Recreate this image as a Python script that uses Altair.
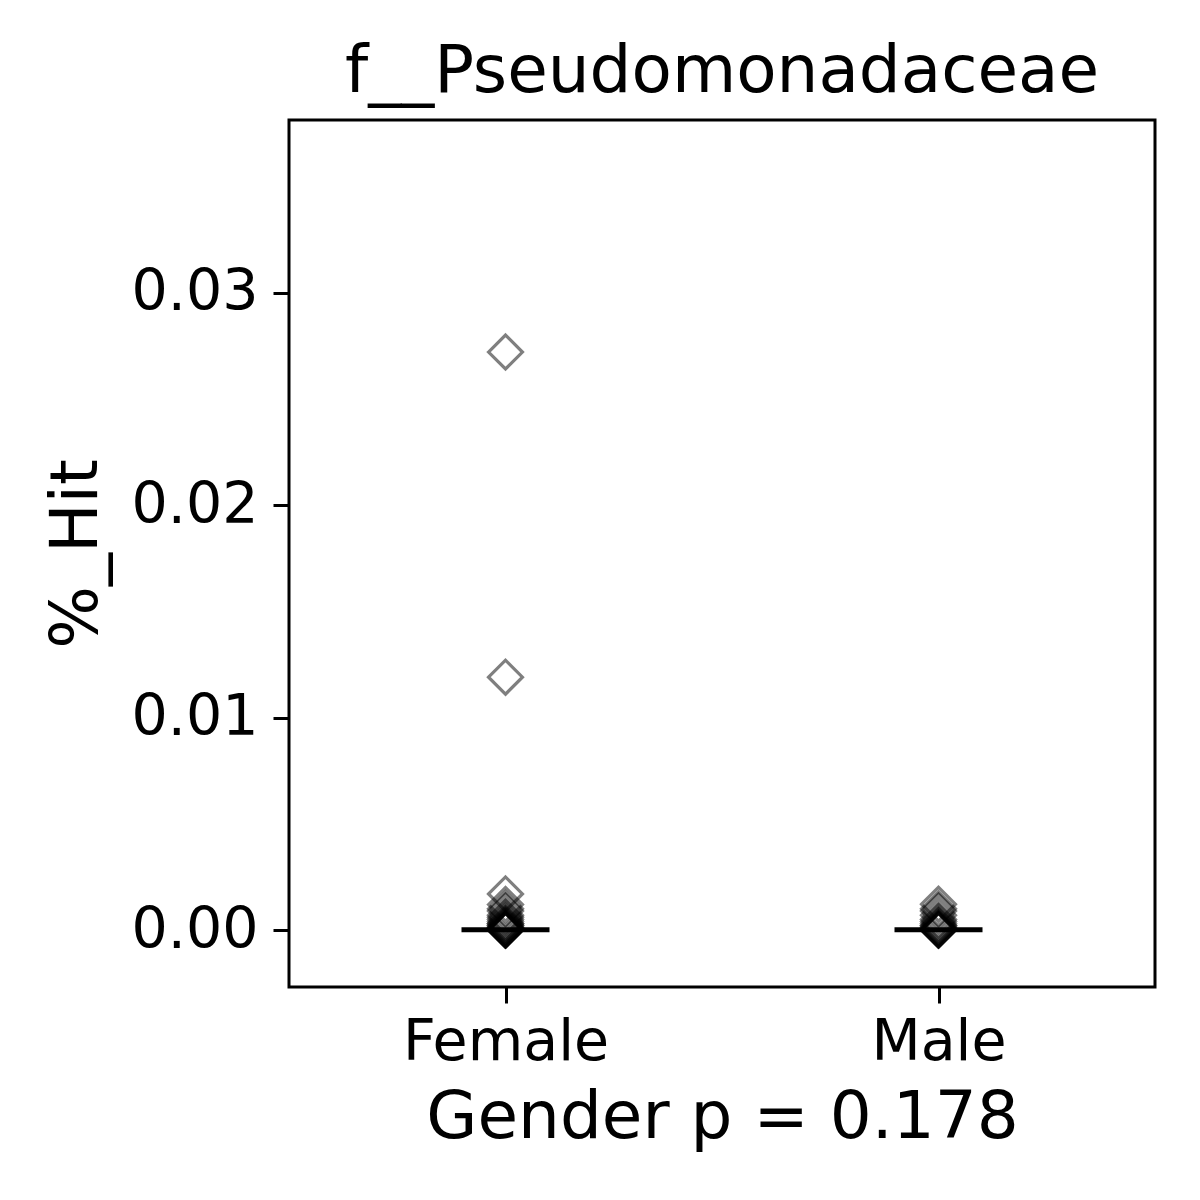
import altair as alt
import pandas as pd

female_vals = [0.0272, 0.0119, 0.0017, 0.0012, 0.0010, 0.0009, 0.0007, 0.0006,
               0.0005, 0.0004, 0.0003, 0.0003, 0.0002, 0.0002, 0.0001, 0.0001,
               0.0001, 0.0, 0.0, 0.0, 0.0, 0.0, 0.0]
male_vals = [0.00122, 0.0010, 0.0009, 0.0007, 0.0005, 0.0004, 0.0003, 0.0002,
             0.0002, 0.0001, 0.0001, 0.0, 0.0, 0.0, 0.0, 0.0]
groups = ["Female", "Male"]
medians = [0.00002, 0.00002]
y_ticks = [0.0, 0.01, 0.02, 0.03]

pts = pd.DataFrame({
    "Gender": ["Female"] * len(female_vals) + ["Male"] * len(male_vals),
    "hit": female_vals + male_vals,
})
med = pd.DataFrame({"Gender": groups, "hit": medians})

FONT = "DejaVu Sans"

x_enc = alt.X(
    "Gender:N",
    sort=groups,
    scale=alt.Scale(type="point", padding=0.5, domain=groups),
    axis=alt.Axis(
        title="Gender p = 0.178",
        labelAngle=0,
        labelFontSize=57,
        titleFontSize=66,
        labelPadding=11,
        titlePadding=15,
        labelLimit=600,
        tickSize=16,
        tickWidth=3,
        tickColor="black",
        domain=False,
        grid=False,
        labelColor="black",
        titleColor="black",
        titleFontWeight="normal",
        labelFont=FONT,
        titleFont=FONT,
    ),
)
y_scale = alt.Scale(domain=[-0.00268, 0.03812], nice=False, zero=False)
y_axis = alt.Axis(
    title="%_Hit",
    values=y_ticks,
    format=".2f",
    labelFontSize=57,
    titleFontSize=66,
    labelPadding=15,
    titlePadding=21,
    labelLimit=600,
    tickSize=16,
    tickWidth=3,
    tickColor="black",
    domain=False,
    grid=False,
    labelColor="black",
    titleColor="black",
    titleFontWeight="normal",
    labelFont=FONT,
    titleFont=FONT,
)

points = alt.Chart(pts).mark_point(
    shape="diamond", size=1150, filled=False, stroke="black",
    strokeOpacity=0.5, opacity=1, strokeWidth=3.2,
).encode(x=x_enc, y=alt.Y("hit:Q", scale=y_scale, axis=y_axis))

medline = alt.Chart(med).mark_tick(
    color="black", size=88, thickness=5, opacity=1,
).encode(x=alt.X("Gender:N", sort=groups), y=alt.Y("hit:Q"))

chart = alt.layer(points, medline).properties(
    width=866,
    height=867,
    background="white",
    title=alt.TitleParams(
        "f__Pseudomonadaceae", fontSize=66, font=FONT, fontWeight="normal",
        color="black", offset=14,
    ),
    padding={"left": 281, "top": 112, "right": 30, "bottom": 200},
    autosize=alt.AutoSizeParams(type="none"),
).configure_view(
    stroke="black", strokeWidth=3, fill="white",
)

chart.save("out.html", embed_options={"renderer": "svg", "actions": False})
